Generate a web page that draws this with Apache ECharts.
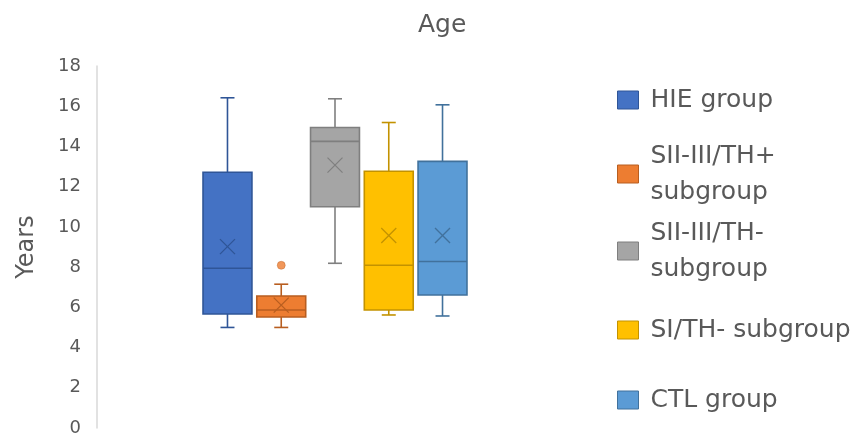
<!DOCTYPE html>
<html>
<head>
<meta charset="utf-8">
<script src="https://cdn.jsdelivr.net/npm/echarts@6/dist/echarts.min.js"></script>
<style>
html,body{margin:0;padding:0;background:#fff;}
#chart{width:862px;height:437px;}
</style>
</head>
<body>
<div id="chart"></div>
<script>
// ---- data ----
const categories = ['HIE group', 'SII-III/TH+\nsubgroup', 'SII-III/TH-\nsubgroup', 'SI/TH- subgroup', 'CTL group'];
const whiskerLow  = [5.0, 5.0, 8.19, 5.62, 5.57];
const quartile1   = [5.67, 5.52, 11.0, 5.87, 6.61];
const medians     = [7.94, 5.87, 14.25, 8.09, 8.28];
const quartile3   = [12.72, 6.56, 14.94, 12.77, 13.26];
const whiskerHigh = [16.42, 7.15, 16.37, 15.19, 16.07];
const means       = [9.02, 6.11, 13.07, 9.57, 9.57];
const outliers    = [[1, 8.09]];
const yTicks      = [0, 2, 4, 6, 8, 10, 12, 14, 16, 18];

// ---- styles ----
const fillColors   = ['#4472C4', '#ED7D31', '#A5A5A5', '#FFC000', '#5B9BD5'];
const borderColors = ['#2F5597', '#B85E20', '#7F7F7F', '#C39200', '#41719C'];
const FONT = 'DejaVu Sans';
const TEXT = '#595959';

const chart = echarts.init(document.getElementById('chart'), null, {renderer: 'canvas'});

function makeRender(idx) {
  return function (params, api) {
    const x = api.value(0);
    const c = v => api.coord([x, v]);
    const band = api.size([1, 0])[0];
    const half = band * 0.455;
    const pLow = c(api.value(1)), pQ1 = c(api.value(2)), pMed = c(api.value(3)),
          pQ3 = c(api.value(4)), pHigh = c(api.value(5)), pMean = c(api.value(6));
    const cx = pMed[0];
    const cap = 7, xs = 7.5;
    const stroke = borderColors[idx];
    const ls = {stroke: stroke, lineWidth: 1.6};
    return {
      type: 'group',
      children: [
        {type: 'line', shape: {x1: cx, y1: pQ3[1], x2: cx, y2: pHigh[1]}, style: ls},
        {type: 'line', shape: {x1: cx, y1: pQ1[1], x2: cx, y2: pLow[1]}, style: ls},
        {type: 'line', shape: {x1: cx - cap, y1: pHigh[1], x2: cx + cap, y2: pHigh[1]}, style: ls},
        {type: 'line', shape: {x1: cx - cap, y1: pLow[1], x2: cx + cap, y2: pLow[1]}, style: ls},
        {type: 'rect', shape: {x: cx - half, y: pQ3[1], width: half * 2, height: pQ1[1] - pQ3[1]},
          style: {fill: fillColors[idx], stroke: stroke, lineWidth: 1.6}},
        {type: 'line', shape: {x1: cx - half, y1: pMed[1], x2: cx + half, y2: pMed[1]}, style: ls},
        {type: 'line', shape: {x1: pMean[0] - xs, y1: pMean[1] - xs, x2: pMean[0] + xs, y2: pMean[1] + xs}, style: {stroke: stroke, lineWidth: 1.3}},
        {type: 'line', shape: {x1: pMean[0] - xs, y1: pMean[1] + xs, x2: pMean[0] + xs, y2: pMean[1] - xs}, style: {stroke: stroke, lineWidth: 1.3}}
      ]
    };
  };
}

const series = categories.map((name, i) => ({
  name: name,
  type: 'custom',
  renderItem: makeRender(i),
  itemStyle: {color: fillColors[i]},
  encode: {x: 0, y: [1, 2, 3, 4, 5, 6]},
  data: [[i, whiskerLow[i], quartile1[i], medians[i], quartile3[i], whiskerHigh[i], means[i]]],
  z: 2
}));

series.push({
  type: 'scatter',
  data: outliers,
  symbol: 'circle',
  symbolSize: 8,
  itemStyle: {color: fillColors[1], borderColor: borderColors[1], borderWidth: 0.5},
  z: 3,
  silent: true
});

const legendTops = [77, 133, 210, 307, 377];
const legends = categories.map((name, i) => ({
  data: [{name: name, itemStyle: {color: fillColors[i], borderColor: borderColors[i], borderWidth: 1}}],
  orient: 'vertical',
  left: 612,
  top: legendTops[i],
  icon: 'rect',
  itemWidth: 21,
  itemHeight: 18,
  selectedMode: false,
  textStyle: {fontFamily: FONT, fontSize: 25, color: TEXT, lineHeight: 36, padding: [0, 0, 0, 7]}
}));

chart.setOption({
  backgroundColor: '#ffffff',
  animation: false,
  title: {
    text: 'Age',
    left: 413,
    top: 8,
    textStyle: {fontFamily: FONT, fontSize: 25, fontWeight: 'normal', color: TEXT}
  },
  legend: legends,
  grid: {left: 200.6, width: 268.8, top: 66, bottom: 6, containLabel: false},
  xAxis: {
    type: 'category',
    data: categories,
    show: false
  },
  yAxis: {
    type: 'value',
    min: yTicks[0],
    max: yTicks[yTicks.length - 1],
    interval: yTicks[1] - yTicks[0],
    offset: 103.6,
    name: 'Years',
    nameLocation: 'middle',
    nameGap: 58,
    nameTextStyle: {fontFamily: FONT, fontSize: 24, color: TEXT},
    axisLine: {show: true, lineStyle: {color: '#d9d9d9', width: 1.5}},
    axisTick: {show: false},
    splitLine: {show: false},
    axisLabel: {fontFamily: FONT, fontSize: 18, color: TEXT, margin: 16}
  },
  series: series
});
</script>
</body>
</html>
